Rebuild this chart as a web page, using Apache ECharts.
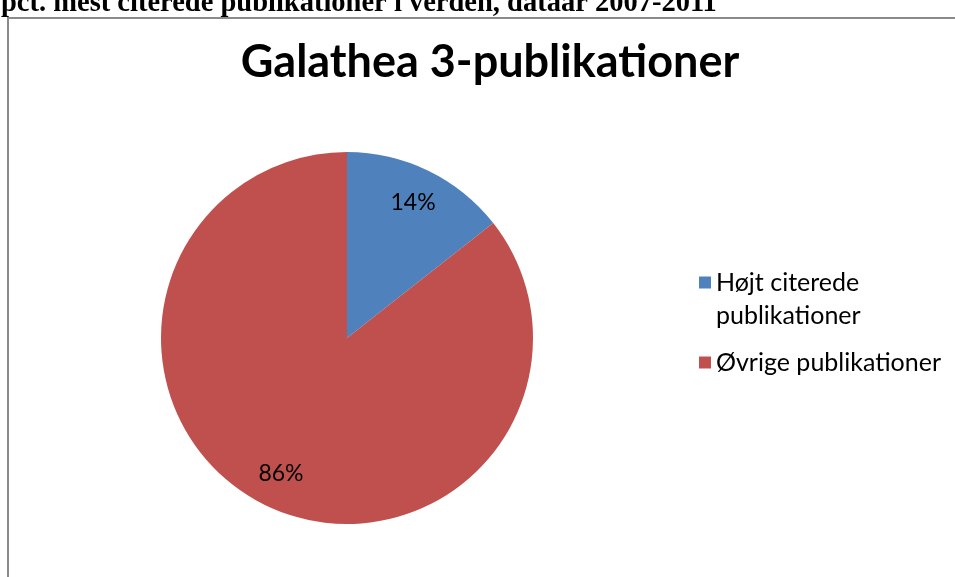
<!DOCTYPE html>
<html>
<head>
<meta charset="utf-8">
<script src="https://cdn.jsdelivr.net/npm/echarts@6/dist/echarts.min.js"></script>
<style>
  html, body { margin: 0; padding: 0; background: #fff; }
  #main { width: 955px; height: 577px; }
</style>
</head>
<body>
<div id="main"></div>
<script>
// data
const categories = ['Højt citerede publikationer', 'Øvrige publikationer']
const values = [14.4, 85.6]
const colors = ['#4F81BD', '#C0504D']
const chartTitle = 'Galathea 3-publikationer'
const pageCaption = 'pct. mest citerede publikationer i verden, dataår 2007-2011'

const pieData = categories.map((name, i) => ({ name: name, value: values[i] }))

const myChart = echarts.init(document.getElementById('main'))
const option = {
  backgroundColor: '#fff',
  animation: false,
  color: colors,
  title: {
    text: chartTitle,
    left: 485,
    top: 35,
    textAlign: 'center',
    textStyle: {
      fontFamily: 'Lato',
      fontWeight: 'bold',
      fontSize: 45,
      color: '#000'
    }
  },
  legend: {
    orient: 'vertical',
    left: 699,
    top: 233,
    padding: 0,
    itemWidth: 12,
    itemHeight: 12,
    itemGap: 14,
    icon: 'rect',
    selectedMode: false,
    // empty first line keeps "Højt citerede" level with the square
    formatter: name => name === categories[0] ? '\nHøjt citerede\npublikationer' : name,
    textStyle: {
      fontFamily: 'Lato',
      fontSize: 25,
      lineHeight: 33,
      color: '#000'
    },
    data: categories
  },
  graphic: [
    {
      type: 'text',
      left: 1,
      top: -11,
      style: {
        text: pageCaption,
        font: 'bold 28.5px "Liberation Serif"',
        fill: '#000'
      }
    },
    {
      type: 'rect',
      shape: { x: 8, y: 18, width: 1000, height: 620 },
      style: { fill: 'none', stroke: '#8a8a8a', lineWidth: 2 }
    }
  ],
  series: [
    {
      type: 'pie',
      center: [347, 338],
      radius: 186,
      startAngle: 90,
      clockwise: true,
      silent: true,
      label: { show: false },
      labelLine: { show: false },
      itemStyle: { borderWidth: 0 },
      data: pieData
    },
    {
      // label ring only
      type: 'pie',
      center: [347, 338],
      radius: [110, 186],
      startAngle: 90,
      clockwise: true,
      silent: true,
      percentPrecision: 0,
      itemStyle: { color: 'rgba(0,0,0,0)', borderWidth: 0 },
      label: {
        show: true,
        position: 'inside',
        formatter: '{d}%',
        fontFamily: 'Lato',
        fontSize: 23,
        color: '#000'
      },
      labelLine: { show: false },
      data: pieData
    }
  ]
}
myChart.setOption(option)
</script>
</body>
</html>
